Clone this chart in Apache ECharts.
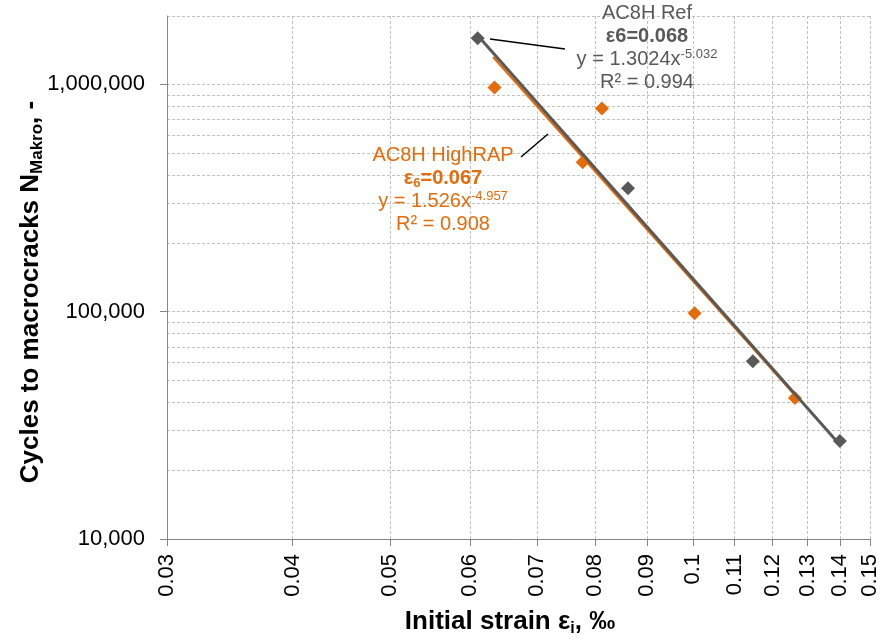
<!DOCTYPE html>
<html>
<head>
<meta charset="utf-8">
<script src="https://cdn.jsdelivr.net/npm/echarts@6/dist/echarts.min.js"></script>
<style>
html,body{margin:0;padding:0;background:#fff;}
#chart{width:884px;height:641px;}
</style>
</head>
<body>
<div id="chart"></div>
<script>
// ---- data ----
var refStrain = [0.0611, 0.0862, 0.1147, 0.140];
var refCycles = [1598000, 349000, 60600, 26970];
var hrStrain = [0.0635, 0.0777, 0.0812, 0.1004, 0.1263];
var hrCycles = [970000, 454000, 784000, 98500, 41700];
// trend line end points (power-law fits shown as straight lines on log-log)
var refTrendStrain = [0.0611, 0.140];
var refTrendCycles = [1640000, 26000];
var hrTrendStrain = [0.0633, 0.1263];
var hrTrendCycles = [1320000, 43000];
// axis ticks
var xTicks = [0.03, 0.04, 0.05, 0.06, 0.07, 0.08, 0.09, 0.1, 0.11, 0.12, 0.13, 0.14, 0.15];
var yLabelTicks = [10000, 100000, 1000000];
var yGridTicks = [20000, 30000, 40000, 50000, 60000, 70000, 80000, 90000, 100000,
  200000, 300000, 400000, 500000, 600000, 700000, 800000, 900000, 1000000, 2000000];

function pairs(xs, ys) { return xs.map(function (x, i) { return [x, ys[i]]; }); }
function commas(v) { return String(Math.round(v)).replace(/\B(?=(\d{3})+(?!\d))/g, ','); }

var GRAY = '#595959', ORANGE = '#E46C0A', AXIS = '#868686', GRID = '#c2c2c2';
var FONT = '"Liberation Sans", Arial, sans-serif';

var chart = echarts.init(document.getElementById('chart'), null, {renderer: 'canvas'});
chart.setOption({
  backgroundColor: '#fff',
  animation: false,
  textStyle: {fontFamily: FONT},
  grid: {left: 167, right: 14, top: 16, bottom: 102, containLabel: false, outerBoundsMode: 'none'},
  xAxis: [{
    type: 'log', logBase: 10, min: 0.03, max: 0.15,
    axisLine: {show: true, onZero: false, lineStyle: {color: AXIS, width: 1}},
    axisTick: {show: true, customValues: xTicks, length: 7, inside: false, lineStyle: {color: AXIS}},
    axisLabel: {customValues: xTicks, rotate: 90, margin: 15, fontSize: 22, color: '#000', fontFamily: FONT,
      formatter: function (v) { return String(+(+v).toFixed(3)); }},
    splitLine: {show: true, lineStyle: {color: GRID, type: [3, 2], width: 1}},
    minorTick: {show: false}, minorSplitLine: {show: false}
  }],
  yAxis: [{
    type: 'log', logBase: 10, min: 10000, max: 2000000,
    axisLine: {show: true, lineStyle: {color: AXIS, width: 1}},
    axisTick: {show: false, customValues: yGridTicks},
    axisLabel: {show: false},
    splitLine: {show: true, lineStyle: {color: GRID, type: [3, 2], width: 1}}
  }, {
    type: 'log', logBase: 10, min: 10000, max: 2000000, position: 'left',
    axisLine: {show: false},
    axisTick: {show: true, customValues: yLabelTicks, length: 7, lineStyle: {color: AXIS}},
    axisLabel: {customValues: yLabelTicks, margin: 22, fontSize: 22, color: '#000', fontFamily: FONT,
      formatter: function (v) { return commas(v); }},
    splitLine: {show: false}
  }],
  series: [{
    name: 'AC8H HighRAP trend', type: 'line', xAxisIndex: 0, yAxisIndex: 0,
    data: pairs(hrTrendStrain, hrTrendCycles), symbol: 'none',
    lineStyle: {color: ORANGE, width: 2.5}, silent: true
  }, {
    name: 'AC8H Ref trend', type: 'line', xAxisIndex: 0, yAxisIndex: 0,
    data: pairs(refTrendStrain, refTrendCycles), symbol: 'none',
    lineStyle: {color: GRAY, width: 3}, silent: true
  }, {
    name: 'AC8H HighRAP', type: 'scatter', xAxisIndex: 0, yAxisIndex: 0,
    data: pairs(hrStrain, hrCycles), symbol: 'diamond', symbolSize: 14,
    itemStyle: {color: ORANGE, opacity: 1}
  }, {
    name: 'AC8H Ref', type: 'scatter', xAxisIndex: 0, yAxisIndex: 0,
    data: pairs(refStrain, refCycles), symbol: 'diamond', symbolSize: 14,
    itemStyle: {color: GRAY, opacity: 1}
  }],
  graphic: [
    {type: 'line', shape: {x1: 490, y1: 39, x2: 565, y2: 49}, style: {stroke: '#000', lineWidth: 1.5}, z: 100},
    {type: 'line', shape: {x1: 521, y1: 157, x2: 548, y2: 134}, style: {stroke: '#000', lineWidth: 1.5}, z: 100},
    {type: 'text', x: 647, y: 2, z: 100, style: {
      text: '{a|AC8H Ref}\n{b|ε6=0.068}\n{a|y = 1.3024x}{s|-5.032}\n{a|R² = 0.994}',
      align: 'center', verticalAlign: 'top', fill: GRAY, font: '20px ' + FONT,
      rich: {
        a: {fontSize: 20, lineHeight: 23, fill: GRAY, color: GRAY, fontFamily: FONT},
        b: {fontSize: 20, lineHeight: 23, fontWeight: 'bold', fill: GRAY, color: GRAY, fontFamily: FONT},
        s: {fontSize: 13, lineHeight: 14, verticalAlign: 'top', fill: GRAY, color: GRAY, fontFamily: FONT}
      }}},
    {type: 'text', x: 443, y: 144, z: 100, style: {
      text: '{a|AC8H HighRAP}\n{b|ε}{bs|6}{b|=0.067}\n{a|y = 1.526x}{s|-4.957}\n{a|R² = 0.908}',
      align: 'center', verticalAlign: 'top', fill: ORANGE, font: '20px ' + FONT,
      rich: {
        a: {fontSize: 20, lineHeight: 23, fill: ORANGE, color: ORANGE, fontFamily: FONT},
        b: {fontSize: 20, lineHeight: 23, fontWeight: 'bold', fill: ORANGE, color: ORANGE, fontFamily: FONT},
        bs: {fontSize: 13, lineHeight: 13, fontWeight: 'bold', verticalAlign: 'bottom', fill: ORANGE, color: ORANGE, fontFamily: FONT},
        s: {fontSize: 13, lineHeight: 14, verticalAlign: 'top', fill: ORANGE, color: ORANGE, fontFamily: FONT}
      }}},
    {type: 'text', x: 510, y: 622, z: 100, style: {
      text: '{t|Initial strain ε}{sub|i}{t|, ‰}',
      align: 'center', verticalAlign: 'middle', fill: '#000', font: 'bold 26px ' + FONT,
      rich: {
        t: {fontSize: 26, lineHeight: 30, fontWeight: 'bold', fill: '#000', color: '#000', fontFamily: FONT},
        sub: {fontSize: 16, lineHeight: 16, fontWeight: 'bold', verticalAlign: 'bottom', fill: '#000', color: '#000', fontFamily: FONT}
      }}},
    {type: 'text', x: 31, y: 292, rotation: Math.PI / 2, z: 100, style: {
      text: '{t|Cycles to macrocracks N}{sub|Makro}{t|, -}',
      align: 'center', verticalAlign: 'middle', fill: '#000', font: 'bold 26px ' + FONT,
      rich: {
        t: {fontSize: 26, lineHeight: 30, fontWeight: 'bold', fill: '#000', color: '#000', fontFamily: FONT},
        sub: {fontSize: 17, lineHeight: 17, fontWeight: 'bold', verticalAlign: 'bottom', fill: '#000', color: '#000', fontFamily: FONT}
      }}}
  ]
});
</script>
</body>
</html>
